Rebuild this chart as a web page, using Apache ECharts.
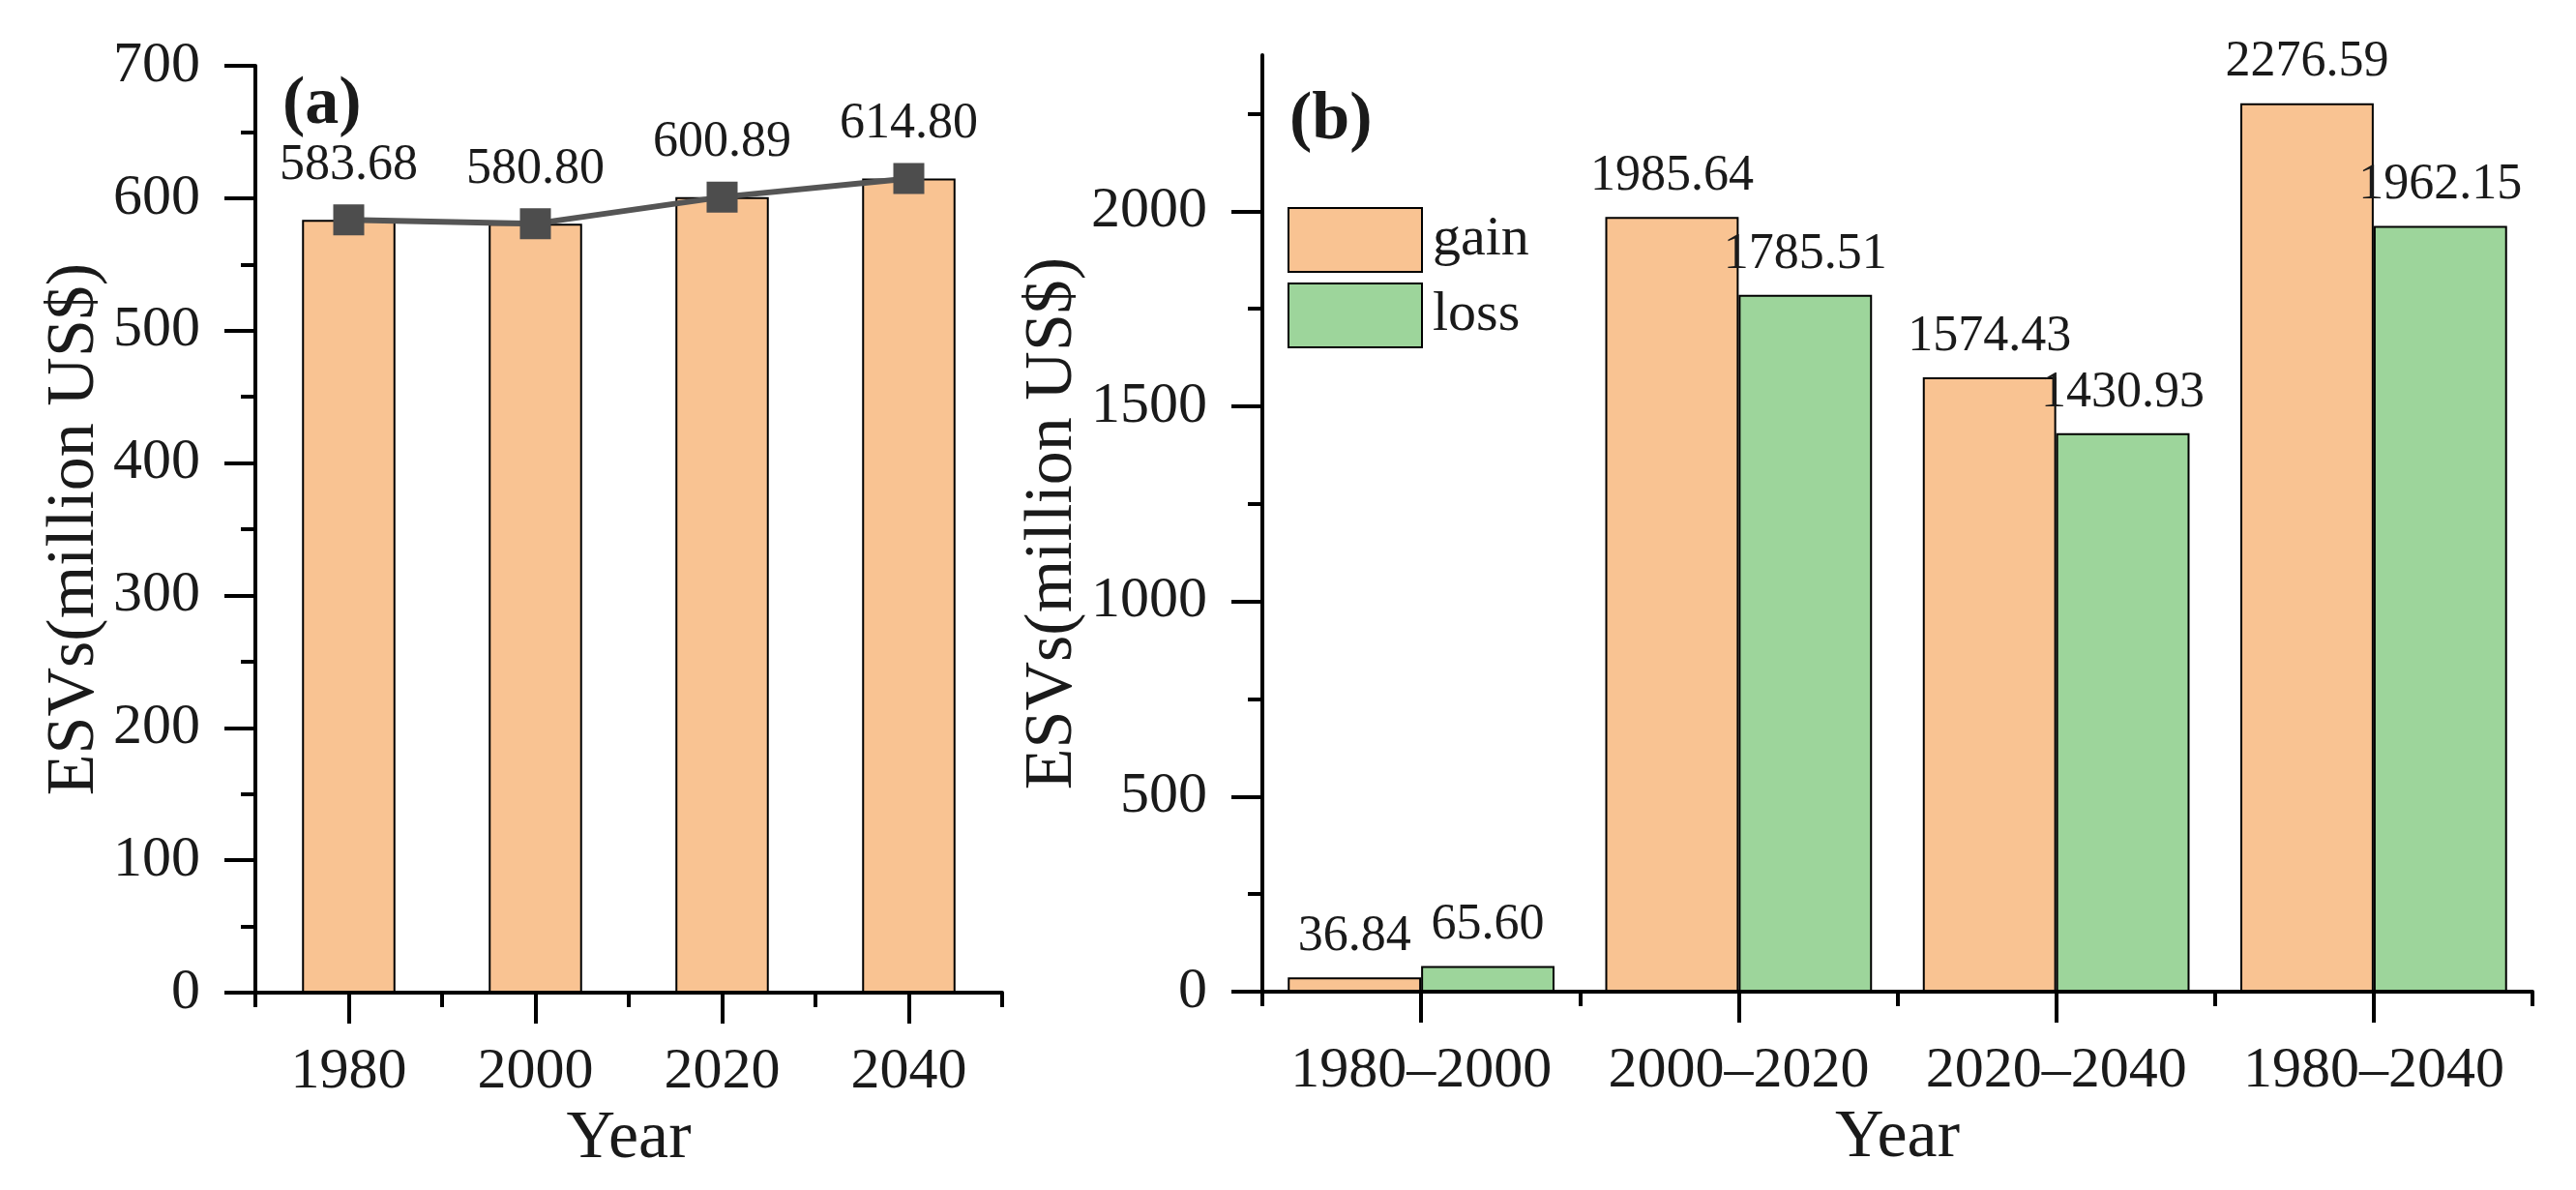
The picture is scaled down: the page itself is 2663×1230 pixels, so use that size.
<!DOCTYPE html>
<html>
<head>
<meta charset="utf-8">
<script src="https://cdn.jsdelivr.net/npm/echarts@6/dist/echarts.min.js"></script>
<style>
  html, body { margin: 0; padding: 0; background: #fff; }
  #chart { width: 2663px; height: 1230px; }
</style>
</head>
<body>
<div id="chart"></div>
<script>
// panel (a): total ESV per year
var years = ['1980', '2000', '2020', '2040'];
var esvTotal = [583.68, 580.80, 600.89, 614.80];

// panel (b): gain / loss per period
var periods = ['1980\u20132000', '2000\u20132020', '2020\u20132040', '1980\u20132040'];
var esvGain = [36.84, 1985.64, 1574.43, 2276.59];
var esvLoss = [65.60, 1785.51, 1430.93, 1962.15];

var ticksB = [0, 500, 1000, 1500, 2000];
var minorTicksB = [250, 750, 1250, 1750, 2250];

var FONT = '"Liberation Serif", "Times New Roman", serif';
var INK = '#1a1a1a';
var GAIN = '#F9C392';
var LOSS = '#9DD59B';

var axisLine = { show: true, lineStyle: { color: '#000', width: 4 } };
var tickStyle = { width: 4, color: '#000' };
var tickLabel = { fontFamily: FONT, fontSize: 60, color: INK };
var nameText = { fontFamily: FONT, fontSize: 70, color: INK };
var fmt = function (p) { return p.value.toFixed(2); };
var plain = function (v) { return String(v); };

var chart = echarts.init(document.getElementById('chart'));

chart.setOption({
    animation: false,
    backgroundColor: '#fff',
    title: [
        { text: '(a)', left: 292, top: 74, padding: 0,
          textStyle: { fontFamily: FONT, fontSize: 70, fontWeight: 'bold', color: INK } },
        { text: '(b)', left: 1333, top: 90, padding: 0,
          textStyle: { fontFamily: FONT, fontSize: 70, fontWeight: 'bold', color: INK } }
    ],
    legend: {
        data: ['gain', 'loss'],
        orient: 'vertical',
        left: 1331,
        top: 214,
        padding: 0,
        itemWidth: 138,
        itemHeight: 66,
        itemGap: 10,
        icon: 'rect',
        textStyle: { fontFamily: FONT, fontSize: 58, color: INK, padding: [0, 0, 0, 6] }
    },
    grid: [
        { left: 264, right: 1627, top: 68, bottom: 204 },
        { left: 1305, right: 45, top: 57, bottom: 205 }
    ],
    xAxis: [
        {
            gridIndex: 0, type: 'category', data: years, position: 'bottom',
            name: 'Year', nameLocation: 'middle', nameGap: 112, nameTextStyle: nameText,
            axisLine: axisLine,
            axisTick: { show: true, alignWithLabel: true, length: 32, lineStyle: tickStyle },
            axisLabel: Object.assign({ margin: 52, interval: 0 }, tickLabel)
        },
        {
            gridIndex: 0, type: 'category', data: years, position: 'bottom',
            axisLine: { show: false }, axisLabel: { show: false },
            axisTick: { show: true, interval: 0, length: 15, lineStyle: tickStyle }
        },
        {
            gridIndex: 1, type: 'category', data: periods, position: 'bottom',
            name: 'Year', nameLocation: 'middle', nameGap: 112, nameTextStyle: nameText,
            axisLine: axisLine,
            axisTick: { show: true, interval: 0, alignWithLabel: true, length: 32, lineStyle: tickStyle },
            axisLabel: Object.assign({ margin: 52, interval: 0 }, tickLabel)
        },
        {
            gridIndex: 1, type: 'category', data: periods, position: 'bottom',
            axisLine: { show: false }, axisLabel: { show: false },
            axisTick: { show: true, interval: 0, length: 15, lineStyle: tickStyle }
        }
    ],
    yAxis: [
        {
            gridIndex: 0, type: 'value', min: 0, max: 700, interval: 100,
            name: 'ESVs(million US$)', nameLocation: 'middle', nameGap: 130, nameTextStyle: nameText,
            axisLine: axisLine,
            axisTick: { show: true, length: 32, lineStyle: tickStyle },
            minorTick: { show: true, splitNumber: 2, length: 15, lineStyle: tickStyle },
            axisLabel: Object.assign({ margin: 57, formatter: plain }, tickLabel),
            splitLine: { show: false }
        },
        {
            gridIndex: 1, type: 'value', min: 0, max: 2400,
            name: 'ESVs(million US$)', nameLocation: 'middle', nameGap: 152, nameTextStyle: nameText,
            axisLine: axisLine,
            axisTick: { show: true, customValues: ticksB, length: 32, lineStyle: tickStyle },
            axisLabel: Object.assign({ margin: 57, customValues: ticksB, formatter: plain }, tickLabel),
            splitLine: { show: false }
        },
        {
            gridIndex: 1, type: 'value', min: 0, max: 2400, position: 'left',
            axisLine: { show: false }, axisLabel: { show: false }, splitLine: { show: false },
            axisTick: { show: true, customValues: minorTicksB, length: 15, lineStyle: tickStyle }
        }
    ],
    series: [
        {
            name: 'total', type: 'bar', xAxisIndex: 0, yAxisIndex: 0,
            data: esvTotal, barWidth: '50%',
            itemStyle: { color: GAIN, borderColor: '#000', borderWidth: 2 }
        },
        {
            name: 'trend', type: 'line', xAxisIndex: 0, yAxisIndex: 0,
            data: esvTotal, symbol: 'rect', symbolSize: 32,
            lineStyle: { color: '#555', width: 6 },
            itemStyle: { color: '#4d4d4d' },
            label: { show: true, position: 'top', distance: 14, formatter: fmt,
                     fontFamily: FONT, fontSize: 52, color: INK }
        },
        {
            name: 'gain', type: 'bar', xAxisIndex: 2, yAxisIndex: 1,
            data: esvGain, barGap: '0%', barCategoryGap: '16%',
            itemStyle: { color: GAIN, borderColor: '#000', borderWidth: 2 },
            label: { show: true, position: 'top', distance: 16, formatter: fmt,
                     fontFamily: FONT, fontSize: 52, color: INK }
        },
        {
            name: 'loss', type: 'bar', xAxisIndex: 2, yAxisIndex: 1,
            data: esvLoss, barGap: '0%', barCategoryGap: '16%',
            itemStyle: { color: LOSS, borderColor: '#000', borderWidth: 2 },
            label: { show: true, position: 'top', distance: 16, formatter: fmt,
                     fontFamily: FONT, fontSize: 52, color: INK }
        }
    ]
});
</script>
</body>
</html>
